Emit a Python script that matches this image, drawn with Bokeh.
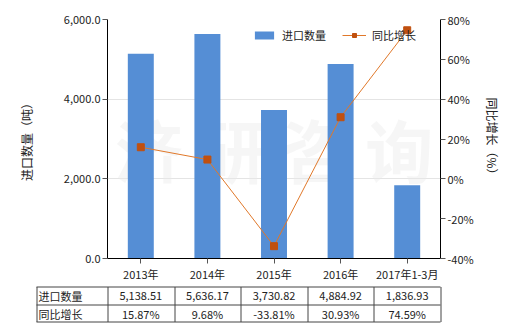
from bokeh.plotting import figure
from bokeh.models import (FactorRange, Range1d, LinearAxis, NumeralTickFormatter,
                          PrintfTickFormatter, FixedTicker, Legend, LegendItem)
from bokeh.layouts import column
from bokeh.core.properties import value
from bokeh.embed import file_html
from bokeh.resources import INLINE

categories = ["2013年", "2014年", "2015年", "2016年", "2017年1-3月"]
import_qty = [5138.51, 5636.17, 3730.82, 4884.92, 1836.93]
yoy_growth = [15.87, 9.68, -33.81, 30.93, 74.59]
qty_labels = ["5,138.51", "5,636.17", "3,730.82", "4,884.92", "1,836.93"]
growth_labels = ["15.87%", "9.68%", "-33.81%", "30.93%", "74.59%"]
row_headers = ["进口数量", "同比增长"]
left_ticks = [0, 2000, 4000, 6000]
right_ticks = [-40, -20, 0, 20, 40, 60, 80]

FONT = "Noto Sans CJK SC"
BAR = "#558ED5"
LINE = "#E0782A"
MARK = "#C0500F"

FL, FR = 107, 440   # frame left / right in page pixels
W, H1, H2 = 520, 284, 46

p = figure(x_range=FactorRange(*categories), y_range=Range1d(0, 6000),
           width=W, height=H1, output_backend="svg", toolbar_location=None,
           min_border_left=FL, min_border_right=W - FR, min_border_top=19,
           min_border_bottom=24)
p.frame_align = False
p.extra_y_ranges = {"pct": Range1d(-40, 80)}
p.outline_line_color = None
p.background_fill_color = "white"
p.border_fill_color = "white"
p.xgrid.visible = False
p.ygrid.grid_line_color = "#E4E4E4"
p.ygrid.ticker = FixedTicker(ticks=left_ticks)

# watermark
p.text(x=["2015年"], y=[2750], text=["济 研 咨 询"], text_align="center",
       text_baseline="middle", text_font_size="68px", text_color="#E8E8E8",
       text_alpha=0.4, text_font=value(FONT), text_font_style="bold")

bars = p.vbar(x=categories, top=import_qty, width=0.39, fill_color=BAR,
              line_color=None)
ln = p.line(x=categories, y=yoy_growth, y_range_name="pct", line_color=LINE,
            line_width=1)
sc = p.scatter(x=categories, y=yoy_growth, y_range_name="pct", marker="square",
               size=7, fill_color=MARK, line_color=MARK)

la = p.left[0]
la.ticker = FixedTicker(ticks=left_ticks)
la.formatter = NumeralTickFormatter(format="0,0.0")
la.axis_label = "进口数量（吨）"

ra = LinearAxis(y_range_name="pct", ticker=FixedTicker(ticks=right_ticks),
                formatter=PrintfTickFormatter(format="%d%%"),
                axis_label="同比增长（%）")
p.add_layout(ra, "right")

for ax in [la, ra]:
    ax.axis_line_color = "black"
    ax.major_tick_line_color = "#555555"
    ax.major_tick_in = 0
    ax.major_tick_out = 5
    ax.minor_tick_line_color = None
    ax.major_label_text_font = FONT
    ax.major_label_text_font_size = "11px"
    ax.major_label_text_color = "#222222"
    ax.axis_label_text_font = FONT
    ax.axis_label_text_font_size = "12px"
    ax.axis_label_text_font_style = "normal"
    ax.axis_label_text_color = "#222222"
    ax.major_label_standoff = 2
la.axis_label_standoff = 26
ra.axis_label_standoff = 7

xa = p.below[0]
xa.axis_line_color = "black"
xa.major_tick_line_color = "#555555"
xa.major_tick_in = 0
xa.major_tick_out = 5
xa.major_label_text_font = FONT
xa.major_label_text_font_size = "11px"
xa.major_label_text_color = "#222222"
xa.major_label_standoff = 2

legend = Legend(items=[LegendItem(label="进口数量", renderers=[bars]),
                       LegendItem(label="同比增长", renderers=[ln, sc])],
                orientation="horizontal", location=(145, 215),
                background_fill_alpha=0, border_line_color=None,
                padding=0, margin=0, spacing=16, glyph_width=24,
                glyph_height=10, label_height=12, label_standoff=6,
                label_text_font=FONT, label_text_font_size="11px",
                label_text_color="#222222")
p.add_layout(legend)

# data table below (page-pixel coordinates)
t = figure(width=W, height=H2, x_range=Range1d(0, W), y_range=Range1d(H2, 0),
           output_backend="svg", toolbar_location=None, min_border=0)
t.frame_align = False
t.axis.visible = False
t.grid.visible = False
t.outline_line_color = None

n = len(categories)
cw = (FR - FL) / n
xs_edges = [36] + [FL + i * cw for i in range(n + 1)]
y_edges = [2.5, 20.5, 37.5]
xs, ys = [], []
for y in y_edges:
    xs.append([36, FR]); ys.append([y, y])
for x in xs_edges:
    xr = round(x) + 0.5
    xs.append([xr, xr]); ys.append([y_edges[0], y_edges[-1]])
t.multi_line(xs=xs, ys=ys, line_color="#444444", line_width=1)

row_y = [(y_edges[i] + y_edges[i + 1]) / 2 for i in range(2)]
t.text(x=[38, 38], y=row_y, text=row_headers, text_align="left",
       text_baseline="middle", text_font=value(FONT), text_font_size="11px",
       text_color="#222222")
cx = [FL + (i + 0.5) * cw for i in range(n)]
t.text(x=cx, y=[row_y[0]] * n, text=qty_labels, text_align="center",
       text_baseline="middle", text_font=value(FONT), text_font_size="11px",
       text_color="#222222")
t.text(x=cx, y=[row_y[1]] * n, text=growth_labels, text_align="center",
       text_baseline="middle", text_font=value(FONT), text_font_size="11px",
       text_color="#222222")

layout = column(p, t, spacing=0)
open("out.html", "w").write(file_html(layout, INLINE))
